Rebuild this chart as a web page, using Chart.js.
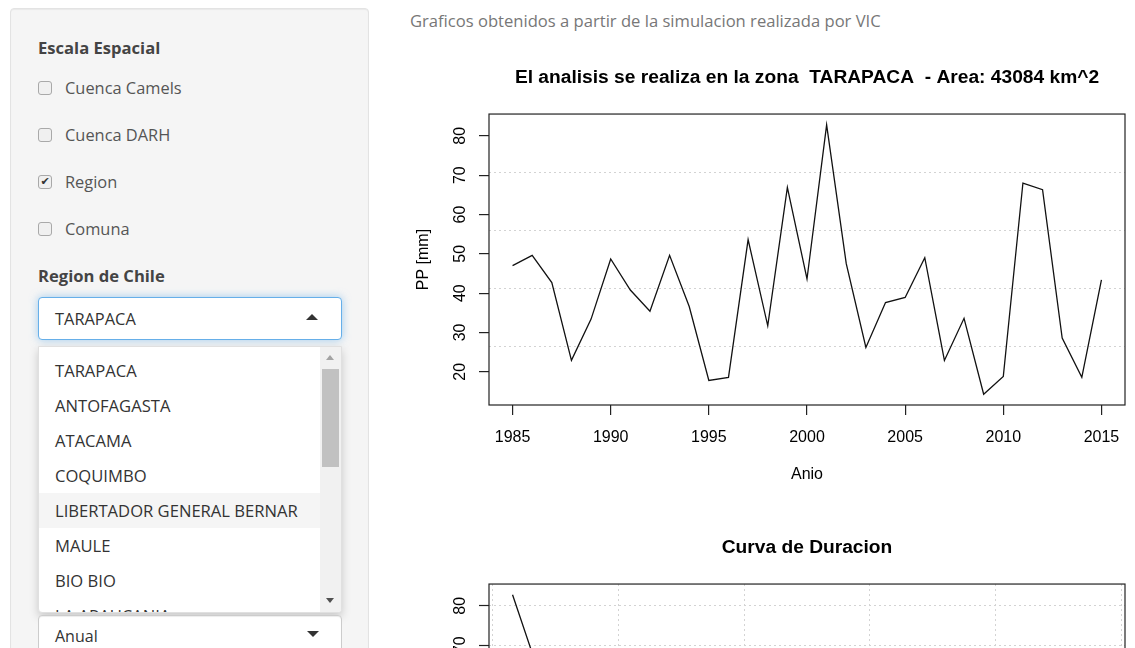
<!DOCTYPE html>
<html>
<head>
<meta charset="utf-8">
<script src="https://cdn.jsdelivr.net/npm/chart.js@4.4.0/dist/chart.umd.min.js"></script>
<style>
html, body { margin:0; padding:0; width:1135px; height:648px; overflow:hidden; background:#fff; font-family:"Open Sans", Lato, sans-serif; }
.abs { position:absolute; }
.well { left:10px; top:8px; width:357px; height:700px; background:#f5f5f5; border:1px solid #e3e3e3; border-radius:4px; box-shadow:inset 0 1px 1px rgba(0,0,0,.05); }
.row { position:absolute; left:38px; height:24px; line-height:24px; white-space:nowrap; }
.lbl { font-weight:bold; font-size:16.6px; color:#444; }
.box { position:absolute; left:0; top:5px; width:14px; height:14px; box-sizing:border-box; border:1px solid #a9a9a9; border-radius:3px; background:#f0f0f0; font:11px/12px "DejaVu Sans"; color:#333; text-align:center; }
.txt { position:absolute; left:27px; font-size:16.4px; color:#555; }
.sel { left:38px; width:304px; box-sizing:border-box; background:#fff; border-radius:4px; font-size:16.4px; color:#333; }
.up { position:absolute; width:0; height:0; border-left:6px solid transparent; border-right:6px solid transparent; border-bottom:6px solid #333; }
.down { position:absolute; width:0; height:0; border-left:6px solid transparent; border-right:6px solid transparent; border-top:6px solid #333; }
.drop { left:38px; top:346px; width:304px; height:267px; background:#fff; border:1px solid #e0e0e0; box-sizing:border-box; box-shadow:0 4px 10px rgba(0,0,0,.18); overflow:hidden; border-radius:0 0 4px 4px; }
.item { position:absolute; left:0; width:281px; height:35px; line-height:35px; padding-left:16px; box-sizing:border-box; font-size:16.6px; color:#333; white-space:nowrap; }
.intro { left:410px; top:10px; height:22px; line-height:22px; font-size:16.6px; color:#777; white-space:nowrap; }
canvas { position:absolute; }
</style>
</head>
<body>
<div class="abs well"></div>
<div class="row lbl" style="top:36px">Escala Espacial</div>
<div class="row" style="top:76px"><span class="box"></span><span class="txt">Cuenca Camels</span></div>
<div class="row" style="top:123px"><span class="box"></span><span class="txt">Cuenca DARH</span></div>
<div class="row" style="top:170px"><span class="box">✔</span><span class="txt">Region</span></div>
<div class="row" style="top:217px"><span class="box"></span><span class="txt">Comuna</span></div>
<div class="row lbl" style="top:264px">Region de Chile</div>
<div class="abs sel" style="top:297px;height:43px;border:1px solid #66afe9;box-shadow:0 0 8px rgba(102,175,233,.6)">
  <div class="abs" style="left:16px;top:0;line-height:41px">TARAPACA</div>
  <div class="up" style="left:267px;top:16px"></div>
</div>
<div class="abs drop" id="drop">
  <div class="abs" style="left:281px;top:0;width:22px;height:267px;background:#f1f1f1"></div>
  <div class="abs" style="left:283px;top:22px;width:17px;height:98px;background:#c1c1c1"></div>
  <div class="abs" style="left:287px;top:8px;width:0;height:0;border-left:4px solid transparent;border-right:4px solid transparent;border-bottom:5px solid #a3a3a3"></div>
  <div class="abs" style="left:287px;top:251px;width:0;height:0;border-left:4px solid transparent;border-right:4px solid transparent;border-top:5px solid #505050"></div>
</div>
<div class="abs sel" style="top:615px;height:45px;border:1px solid #ccc;box-shadow:inset 0 1px 1px rgba(0,0,0,.075)">
  <div class="abs" style="left:16px;top:0;line-height:41px;font-size:16px">Anual</div>
  <div class="down" style="left:268px;top:15px"></div>
</div>

<div class="abs intro">Graficos obtenidos a partir de la simulacion realizada por VIC</div>
<canvas id="serie" width="735" height="470" style="left:400px;top:40px"></canvas>
<canvas id="duracion" width="735" height="470" style="left:400px;top:510px"></canvas>

<script>
var years = [1985,1986,1987,1988,1989,1990,1991,1992,1993,1994,1995,1996,1997,1998,1999,2000,
             2001,2002,2003,2004,2005,2006,2007,2008,2009,2010,2011,2012,2013,2014,2015];
var ppAnual = [47.0,49.6,42.7,22.9,33.4,48.7,40.8,35.4,49.6,36.6,17.8,18.6,53.6,31.7,66.9,43.6,
               82.8,47.5,26.2,37.6,38.9,49.0,22.9,33.6,14.3,18.8,68.0,66.3,28.6,18.6,43.4];
var xTicks = [1985,1990,1995,2000,2005,2010,2015];
var yTicks = [20,30,40,50,60,70,80];
var pctTicks = [0,20,40,60,80,100];
var regiones = ['TARAPACA','ANTOFAGASTA','ATACAMA','COQUIMBO','LIBERTADOR GENERAL BERNAR','MAULE','BIO BIO','LA ARAUCANIA'];

// dropdown list
var drop = document.getElementById('drop');
regiones.forEach(function(r, i) {
  var d = document.createElement('div');
  d.className = 'item';
  d.style.top = (6 + 35 * i) + 'px';
  if (i === 4) d.style.background = '#f5f5f5';
  d.textContent = r;
  drop.appendChild(d);
});

// same range rule as R plot (4% each side)
function rRange(v) {
  var lo = Math.min.apply(null, v), hi = Math.max.apply(null, v), d = (hi - lo) * 0.04;
  return [lo - d, hi + d];
}

var FONT = 'Liberation Sans';

// box around plot + rotated y labels, like base R
var rBox = {
  id: 'rBox',
  afterDraw: function(chart) {
    var ctx = chart.ctx, a = chart.chartArea, y = chart.scales.y;
    ctx.save();
    ctx.strokeStyle = '#222';
    ctx.lineWidth = 1.2;
    ctx.strokeRect(a.left, a.top, a.right - a.left, a.bottom - a.top);
    ctx.font = '16px "' + FONT + '"';
    ctx.fillStyle = '#000';
    ctx.textAlign = 'center';
    ctx.textBaseline = 'middle';
    y.ticks.forEach(function(t) {
      ctx.save();
      ctx.translate(a.left - 28.5, y.getPixelForValue(t.value));
      ctx.rotate(-Math.PI / 2);
      ctx.fillText(String(t.value), 0, 0);
      ctx.restore();
    });
    ctx.restore();
  }
};

function titleOpts(text) {
  return { display: true, fullSize: false, text: text, color: '#000',
           font: { family: FONT, size: 19.2, weight: 'bold' }, padding: { top: 26, bottom: 25 } };
}

function fixX(s) { s.height = 105; s.paddingLeft = 0; s.paddingRight = 0; }

var yr = rRange(ppAnual);
var xr = rRange(years);

new Chart(document.getElementById('serie'), {
  type: 'line',
  data: {
    datasets: [{
      data: years.map(function(a, i) { return { x: a, y: ppAnual[i] }; }),
      borderColor: '#111', borderWidth: 1.3, pointRadius: 0, tension: 0, fill: false
    }]
  },
  options: {
    responsive: false, animation: false, events: [],
    layout: { padding: { left: 0, right: 10, top: 0, bottom: 0 } },
    plugins: {
      legend: { display: false }, tooltip: { enabled: false },
      title: titleOpts('El analisis se realiza en la zona  TARAPACA  - Area: 43084 km^2')
    },
    scales: {
      x: {
        type: 'linear', min: xr[0], max: xr[1],
        afterBuildTicks: function(s) { s.ticks = xTicks.map(function(v) { return { value: v }; }); },
        afterFit: fixX,
        grid: { drawOnChartArea: false, tickLength: 10, color: '#222', lineWidth: 1.2 },
        border: { display: false },
        ticks: { autoSkip: false, maxRotation: 0, padding: 13.4, color: '#000',
                 font: { family: FONT, size: 16 }, callback: function(v) { return String(v); } },
        title: { display: true, text: 'Anio', color: '#000', font: { family: FONT, size: 16 }, padding: { top: 0, bottom: 26 } }
      },
      y: {
        min: yr[0], max: yr[1],
        afterBuildTicks: function(s) { s.ticks = yTicks.map(function(v) { return { value: v }; }); },
        afterFit: function(s) { s.width = 89; },
        grid: { drawOnChartArea: false, tickLength: 10, color: '#222', lineWidth: 1.2 },
        border: { display: false },
        ticks: { display: false },
        title: { display: true, text: 'PP [mm]', color: '#000', font: { family: FONT, size: 16 }, padding: { top: 14, bottom: 0 } }
      },
      // grid(nx = NA, ny = 5)
      yg: {
        position: 'right', min: yr[0], max: yr[1],
        afterBuildTicks: function(s) { s.ticks = [1, 2, 3, 4].map(function(k) { return { value: s.min + k * (s.max - s.min) / 5 }; }); },
        afterFit: function(s) { s.width = 0; },
        grid: { drawTicks: false, color: '#d3d3d3', lineWidth: 1 },
        border: { display: false, dash: [2, 3] },
        ticks: { display: false }
      }
    }
  },
  plugins: [rBox]
});

// curva de duracion
var ppOrden = ppAnual.slice().sort(function(a, b) { return b - a; });
var excedencia = ppOrden.map(function(v, i) { return (i + 1) / (ppOrden.length + 1) * 100; });
var er = rRange(excedencia);
var yr2 = rRange(ppOrden);

new Chart(document.getElementById('duracion'), {
  type: 'line',
  data: {
    datasets: [{
      data: excedencia.map(function(p, i) { return { x: p, y: ppOrden[i] }; }),
      borderColor: '#111', borderWidth: 1.3, pointRadius: 0, tension: 0, fill: false
    }]
  },
  options: {
    responsive: false, animation: false, events: [],
    layout: { padding: { left: 0, right: 10, top: 0, bottom: 0 } },
    plugins: {
      legend: { display: false }, tooltip: { enabled: false },
      title: titleOpts('Curva de Duracion')
    },
    scales: {
      x: {
        type: 'linear', min: er[0], max: er[1],
        afterBuildTicks: function(s) { s.ticks = pctTicks.map(function(v) { return { value: v }; }); },
        afterFit: fixX,
        grid: { tickLength: 10, color: '#d3d3d3', lineWidth: 1, tickColor: '#222', tickWidth: 1.2, tickBorderDash: [] },
        border: { display: false, dash: [2, 3] },
        ticks: { autoSkip: false, maxRotation: 0, padding: 13.4, color: '#000', font: { family: FONT, size: 16 } }
      },
      y: {
        min: yr2[0], max: yr2[1],
        afterBuildTicks: function(s) { s.ticks = yTicks.map(function(v) { return { value: v }; }); },
        afterFit: function(s) { s.width = 89; },
        grid: { tickLength: 10, color: '#d3d3d3', lineWidth: 1, tickColor: '#222', tickWidth: 1.2, tickBorderDash: [] },
        border: { display: false, dash: [2, 3] },
        ticks: { display: false },
        title: { display: true, text: 'PP [mm]', color: '#000', font: { family: FONT, size: 16 }, padding: { top: 14, bottom: 0 } }
      }
    }
  },
  plugins: [rBox]
});
</script>
</body>
</html>
